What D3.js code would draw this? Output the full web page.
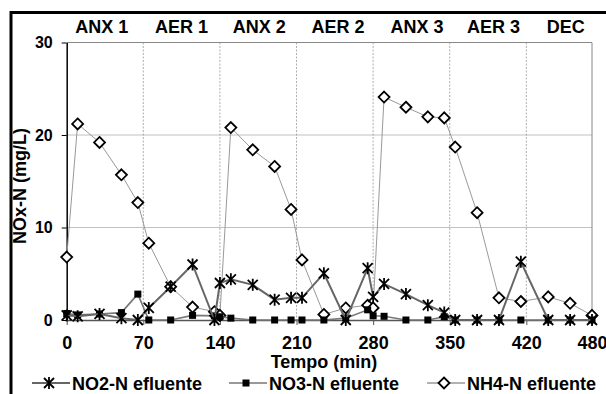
<!DOCTYPE html>
<html>
<head>
<meta charset="utf-8">
<script src="https://cdn.jsdelivr.net/npm/d3@7"></script>
<style>
  body { margin: 0; background: #fff; }
  svg { display: block; font-family: Arial, "Liberation Sans", sans-serif; }
</style>
</head>
<body>
<div id="chart"></div>
<script>
// sampling times (min)
var tempo = [0, 10, 30, 50, 65, 75, 95, 115, 135, 140, 150, 170, 190, 205, 215, 235, 255, 275, 280, 290, 310, 330, 345, 355, 375, 395, 415, 440, 460, 480];
var no2 = [0.5, 0.4, 0.65, 0.2, 0, 1.3, 3.6, 6.0, 0, 4.0, 4.4, 3.8, 2.2, 2.4, 2.4, 5.05, 0, 5.6, 2.5, 3.9, 2.8, 1.6, 0.8, 0, 0, 0, 6.3, 0, 0, 0];
var no3 = [0.7, 0.55, 0.65, 0.8, 2.8, 0, 0, 0.5, 0.45, 0.35, 0.2, 0, 0, 0, 0, 0, 0.2, 1.1, 0.45, 0.4, 0, 0, 0.35, 0, 0, 0, 0, 0, 0, 0];
var nh4 = [6.8, 21.2, 19.2, 15.7, 12.7, 8.3, 3.6, 1.4, 0.9, 0.5, 20.8, 18.4, 16.6, 11.95, 6.5, 0.6, 1.3, 1.6, 1.3, 24.1, 23.0, 21.96, 21.85, 18.7, 11.6, 2.4, 2.0, 2.5, 1.8, 0.5];

var xTicks = [0, 70, 140, 210, 280, 350, 420, 480];
var yTicks = [0, 10, 20, 30];
var phaseBounds = [70, 140, 210, 280, 350, 420];
var phaseNames = ['ANX 1', 'AER 1', 'ANX 2', 'AER 2', 'ANX 3', 'AER 3', 'DEC'];
var phaseMid = [32, 105, 176, 248, 320, 390, 456];

var width = 606,
  height = 394;

var margin = { top: 42.5, right: 14, bottom: 74, left: 66.7 };

var svg = d3.select('#chart')
  .append('svg')
  .attr('width', width)
  .attr('height', height);

// outer frame (only top and left edges visible)
svg.append('path')
  .attr('d', 'M11,' + height + 'V12.5H' + width)
  .attr('fill', 'none')
  .attr('stroke', '#000')
  .attr('stroke-width', 3);

var x = d3.scaleLinear().domain([0, 480]).range([margin.left, width - margin.right]);
var y = d3.scaleLinear().domain([0, 30]).range([height - margin.bottom, margin.top]);

// horizontal grid
svg.append('g')
  .selectAll('line')
  .data([10, 20])
  .enter()
  .append('line')
  .attr('x1', x(0)).attr('x2', x(480))
  .attr('y1', function(d) { return y(d); })
  .attr('y2', function(d) { return y(d); })
  .attr('stroke', '#c0c0c0')
  .attr('stroke-width', 1);

// phase separators
svg.append('g')
  .selectAll('line')
  .data(phaseBounds)
  .enter()
  .append('line')
  .attr('x1', function(d) { return x(d); })
  .attr('x2', function(d) { return x(d); })
  .attr('y1', y(30)).attr('y2', y(0))
  .attr('stroke', '#999')
  .attr('stroke-width', 0.8)
  .attr('stroke-dasharray', '2,1.5');

// plot border (top and right)
svg.append('path')
  .attr('d', 'M' + x(0) + ',' + y(30) + 'H' + x(480) + 'V' + y(0))
  .attr('fill', 'none')
  .attr('stroke', '#888')
  .attr('stroke-width', 1);

// axes
var xAxis = svg.append('g')
  .attr('transform', 'translate(0,' + y(0) + ')')
  .call(d3.axisBottom(x).tickValues(xTicks).tickSize(5).tickSizeOuter(0).tickPadding(11));
xAxis.select('.domain').attr('stroke', '#555').attr('stroke-width', 1.5);
xAxis.selectAll('.tick line').attr('stroke', '#555');
xAxis.selectAll('text').attr('font-size', 18).attr('font-weight', 'bold').attr('fill', '#000');

var yAxis = svg.append('g')
  .attr('transform', 'translate(' + x(0) + ',0)')
  .call(d3.axisLeft(y).tickValues(yTicks).tickSize(5).tickSizeOuter(0).tickPadding(9));
yAxis.select('.domain').attr('stroke', '#000').attr('stroke-width', 1.5);
yAxis.selectAll('.tick line').attr('stroke', '#000');
yAxis.selectAll('text').attr('font-size', 16).attr('font-weight', 'bold').attr('fill', '#000');

// axis titles
svg.append('text')
  .attr('x', 324).attr('y', 368)
  .attr('text-anchor', 'middle')
  .attr('font-size', 18).attr('font-weight', 'bold')
  .text('Tempo (min)');

svg.append('text')
  .attr('transform', 'translate(26,186) rotate(-90)')
  .attr('text-anchor', 'middle')
  .attr('font-size', 18).attr('font-weight', 'bold')
  .text('NOx-N (mg/L)');

// phase labels
svg.append('g')
  .selectAll('text')
  .data(phaseNames)
  .enter()
  .append('text')
  .attr('x', function(d, i) { return x(phaseMid[i]); })
  .attr('y', 33)
  .attr('text-anchor', 'middle')
  .attr('font-size', 18).attr('font-weight', 'bold')
  .text(function(d) { return d; });

// series
var starPath = 'M-5,-5L5,5M-5,5L5,-5M0,-6V6';
var series = [
  { name: 'NO2-N efluente', values: no2, color: '#666', width: 2, marker: 'star' },
  { name: 'NO3-N efluente', values: no3, color: '#777', width: 1.6, marker: 'square' },
  { name: 'NH4-N efluente', values: nh4, color: '#999', width: 1, marker: 'diamond' }
];

var line = d3.line()
  .x(function(d) { return x(d[0]); })
  .y(function(d) { return y(d[1]); });

function drawMarker(g, type) {
  if (type === 'star') {
    g.append('path').attr('d', starPath)
      .attr('stroke', '#000').attr('stroke-width', 1.8).attr('fill', 'none');
  } else if (type === 'square') {
    g.append('rect').attr('x', -3.5).attr('y', -3.5).attr('width', 7).attr('height', 7)
      .attr('fill', '#000');
  } else {
    g.append('path').attr('d', 'M0,-5.5L5.5,0L0,5.5L-5.5,0Z')
      .attr('fill', '#fff').attr('stroke', '#000').attr('stroke-width', 1.8);
  }
}

// draw lines from last to first so NO2 stays on top
series.slice().reverse().forEach(function(s) {
  var pts = tempo.map(function(t, i) { return [t, s.values[i]]; });
  svg.append('path')
    .datum(pts)
    .attr('d', line)
    .attr('fill', 'none')
    .attr('stroke', s.color)
    .attr('stroke-width', s.width);
  svg.append('g')
    .selectAll('g')
    .data(pts)
    .enter()
    .append('g')
    .attr('transform', function(d) { return 'translate(' + x(d[0]) + ',' + y(d[1]) + ')'; })
    .each(function() { drawMarker(d3.select(this), s.marker); });
});

// legend
var legendX = [32, 229, 427];
var legend = svg.selectAll('.legend')
  .data(series)
  .enter()
  .append('g')
  .attr('class', 'legend')
  .attr('transform', function(d, i) { return 'translate(' + legendX[i] + ',383)'; });

legend.append('line')
  .attr('x1', 0).attr('x2', 38)
  .attr('stroke', function(d) { return d.color; })
  .attr('stroke-width', function(d) { return Math.max(d.width, 1.5); });

legend.each(function(d) {
  var m = d3.select(this).append('g').attr('transform', 'translate(17,0)');
  drawMarker(m, d.marker);
});

legend.append('text')
  .attr('x', 40)
  .attr('y', 6.5)
  .attr('font-size', 18).attr('font-weight', 'bold')
  .text(function(d) { return d.name; });
</script>
</body>
</html>
